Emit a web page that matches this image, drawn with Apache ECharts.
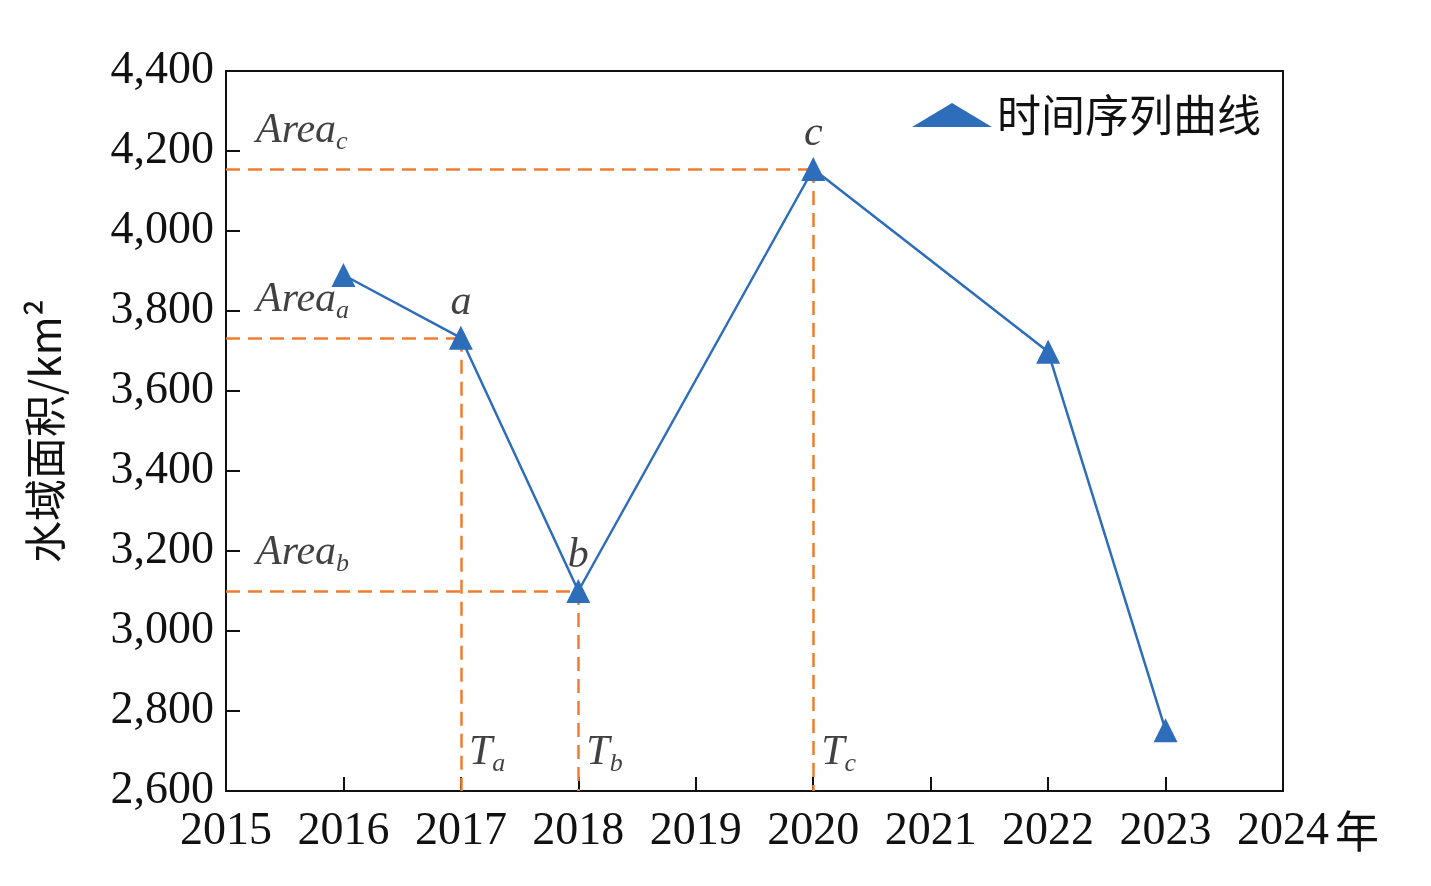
<!DOCTYPE html>
<html><head><meta charset="utf-8">
<script src="https://cdn.jsdelivr.net/npm/echarts@6/dist/echarts.min.js"></script>
<style>html,body{margin:0;padding:0;background:#fff}#c{width:1431px;height:886px}</style>
</head><body><div id="c"></div>
<script>
const years = [2016, 2017, 2018, 2020, 2022, 2023];
const areas = [3890, 3733, 3100, 4155, 3698, 2752];
const keyPoints = [
  {name: 'a', t: 2017, area: 3733, tLabel: 'a'},
  {name: 'b', t: 2018, area: 3100, tLabel: 'b'},
  {name: 'c', t: 2020, area: 4155, tLabel: 'c'}
];
const yTicks = [2600, 4400, 200];
const xRange = [2015, 2024, 1];

const font = 'Liberation Serif';
const orange = '#ED7D31';
const blue = '#2E6DB9';
const dashLines = [];
keyPoints.forEach(p => {
  dashLines.push([[xRange[0], p.area], [p.t, p.area]]);
  dashLines.push([[p.t, p.area], [p.t, yTicks[0]]]);
});
const italic = {fontFamily: font, fontStyle: 'italic', color: '#111'};
const rich = {
  m: Object.assign({fontSize: 42}, italic),
  s: Object.assign({fontSize: 26, padding: [22, 0, 0, 0]}, italic)
};
const annos = [];
keyPoints.forEach(p => {
  annos.push({value: [p.t, p.area], label: {formatter: p.name, position: 'top', distance: 14, fontSize: 42, fontFamily: font, fontStyle: 'italic', color: '#111'}});
  annos.push({value: [xRange[0], p.area], label: {formatter: '{m|Area}{s|' + p.name + '}', position: [30, -62], rich: rich}});
  annos.push({value: [p.t, yTicks[0]], label: {formatter: '{m|T}{s|' + p.tLabel + '}', position: [8, -62], rich: rich}});
});

const chart = echarts.init(document.getElementById('c'));
chart.setOption({
  animation: false,
  grid: {left: 226, right: 148, top: 71, bottom: 95, show: true, borderColor: '#111', borderWidth: 2},
  legend: {
    right: 165, top: 88, itemWidth: 80, itemHeight: 24, itemGap: 10,
    textStyle: {fontSize: 44, fontFamily: 'Noto Sans CJK SC', color: '#111'},
    data: [{name: '时间序列曲线', icon: 'triangle'}]
  },
  xAxis: {
    type: 'value', min: xRange[0], max: xRange[1], interval: xRange[2],
    name: '年', nameLocation: 'end', nameGap: 22,
    nameTextStyle: {fontSize: 44, fontFamily: 'Noto Sans CJK SC', color: '#111', verticalAlign: 'top', padding: [18, 0, 0, 0]},
    axisLine: {lineStyle: {color: '#111', width: 2}},
    axisTick: {inside: true, length: 14, lineStyle: {color: '#111', width: 2}},
    splitLine: {show: false},
    axisLabel: {fontSize: 46, fontFamily: font, color: '#111', margin: 18, formatter: v => String(v)}
  },
  yAxis: {
    type: 'value', min: yTicks[0], max: yTicks[1], interval: yTicks[2],
    name: '水域面积/km²', nameLocation: 'middle', nameGap: 160,
    nameTextStyle: {fontSize: 42, fontFamily: 'Noto Sans CJK SC', color: '#111'},
    axisLine: {lineStyle: {color: '#111', width: 2}},
    axisTick: {inside: true, length: 14, lineStyle: {color: '#111', width: 2}},
    splitLine: {show: false},
    axisLabel: {fontSize: 46, fontFamily: font, color: '#111', margin: 12}
  },
  series: [
    {
      type: 'lines', coordinateSystem: 'cartesian2d', silent: true, z: 1,
      lineStyle: {color: orange, width: 2.5, type: [14, 8], opacity: 1},
      data: dashLines.map(c => ({coords: c}))
    },
    {
      name: '时间序列曲线', type: 'line', z: 3,
      data: years.map((y, i) => [y, areas[i]]),
      symbol: 'triangle', symbolSize: 24,
      lineStyle: {color: blue, width: 2.5},
      itemStyle: {color: blue}
    },
    {
      type: 'scatter', symbolSize: 0, silent: true, z: 4,
      data: annos.map(a => ({value: a.value, label: Object.assign({show: true}, a.label)}))
    }
  ]
});
</script></body></html>
